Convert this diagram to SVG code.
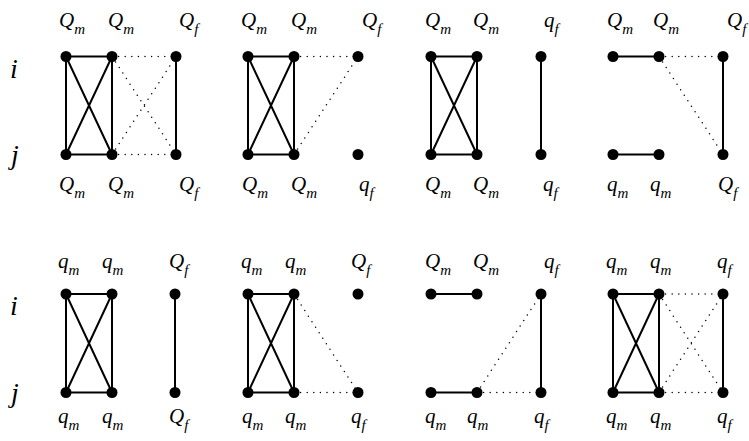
<svg xmlns="http://www.w3.org/2000/svg" width="749" height="441" viewBox="0 0 749 441">
<style>
.bg{fill:#fff}
.s{stroke:#000;stroke-width:2;fill:none}
.d{stroke:#000;stroke-width:1.5;stroke-linecap:round;stroke-dasharray:0 6.6;fill:none}
.n{fill:#000}
.l{font-family:"Liberation Serif","Times New Roman",serif;font-style:italic;font-size:21px;fill:#000}
.sb{font-size:15px}
.ij{font-family:"Liberation Serif","Times New Roman",serif;font-style:italic;font-size:28px;fill:#000}
</style>
<defs>
<circle id="dot" r="5.5" class="n"/>
</defs>
<rect class="bg" width="749" height="441"/>
<g id="connectors">
<path class="s" d="M66 56.5H112M66 154.5H112M66 56.5V154.5M112 56.5V154.5M66 56.5L112 154.5M112 56.5L66 154.5M176 56.5V154.5"/>
<path class="d" d="M112 56.5H176M112 154.5H176M112 56.5L176 154.5M112 154.5L176 56.5"/>
<path class="s" d="M248 56.5H294M248 154.5H294M248 56.5V154.5M294 56.5V154.5M248 56.5L294 154.5M294 56.5L248 154.5"/>
<path class="d" d="M294 56.5H358M294 154.5L358 56.5"/>
<path class="s" d="M431 56.5H477M431 154.5H477M431 56.5V154.5M477 56.5V154.5M431 56.5L477 154.5M477 56.5L431 154.5M541 56.5V154.5"/>
<path class="s" d="M613 56.5H659M613 154.5H659M723 56.5V154.5"/>
<path class="d" d="M659 56.5H723M659 56.5L723 154.5"/>
<path class="s" d="M66 294H112M66 392.5H112M66 294V392.5M112 294V392.5M66 294L112 392.5M112 294L66 392.5M175 294V392.5"/>
<path class="s" d="M248 294H294M248 392.5H294M248 294V392.5M294 294V392.5M248 294L294 392.5M294 294L248 392.5"/>
<path class="d" d="M294 294L358 392.5M294 392.5H358"/>
<path class="s" d="M431 294H477M431 392.5H477M541 294V392.5"/>
<path class="d" d="M477 392.5L541 294M477 392.5H541"/>
<path class="s" d="M613 294H659M613 392.5H659M613 294V392.5M659 294V392.5M613 294L659 392.5M659 294L613 392.5M723 294V392.5"/>
<path class="d" d="M659 294H723M659 392.5H723M659 294L723 392.5M659 392.5L723 294"/>
</g>
<g id="rowlabels">
<text class="ij" x="10" y="78">i</text>
<text class="ij" x="11" y="164">j</text>
<text class="ij" x="10" y="315">i</text>
<text class="ij" x="11" y="402">j</text>
</g>
<g id="p1-m1-top"><use href="#dot" x="66" y="56.5"/><text class="l" x="59" y="27">Q<tspan class="sb" dy="7">m</tspan></text></g>
<g id="p1-m2-top"><use href="#dot" x="112" y="56.5"/><text class="l" x="108" y="27">Q<tspan class="sb" dy="7">m</tspan></text></g>
<g id="p1-f-top"><use href="#dot" x="176" y="56.5"/><text class="l" x="179" y="27">Q<tspan class="sb" dy="7">f</tspan></text></g>
<g id="p1-m1-bot"><use href="#dot" x="66" y="154.5"/><text class="l" x="59" y="191">Q<tspan class="sb" dy="7">m</tspan></text></g>
<g id="p1-m2-bot"><use href="#dot" x="112" y="154.5"/><text class="l" x="108" y="191">Q<tspan class="sb" dy="7">m</tspan></text></g>
<g id="p1-f-bot"><use href="#dot" x="176" y="154.5"/><text class="l" x="179" y="191">Q<tspan class="sb" dy="7">f</tspan></text></g>
<g id="p2-m1-top"><use href="#dot" x="248" y="56.5"/><text class="l" x="241" y="27">Q<tspan class="sb" dy="7">m</tspan></text></g>
<g id="p2-m2-top"><use href="#dot" x="294" y="56.5"/><text class="l" x="291" y="27">Q<tspan class="sb" dy="7">m</tspan></text></g>
<g id="p2-f-top"><use href="#dot" x="358" y="56.5"/><text class="l" x="362" y="27">Q<tspan class="sb" dy="7">f</tspan></text></g>
<g id="p2-m1-bot"><use href="#dot" x="248" y="154.5"/><text class="l" x="242" y="191">Q<tspan class="sb" dy="7">m</tspan></text></g>
<g id="p2-m2-bot"><use href="#dot" x="294" y="154.5"/><text class="l" x="291" y="191">Q<tspan class="sb" dy="7">m</tspan></text></g>
<g id="p2-f-bot"><use href="#dot" x="358" y="154.5"/><text class="l" x="359" y="191">q<tspan class="sb" dy="7">f</tspan></text></g>
<g id="p3-m1-top"><use href="#dot" x="431" y="56.5"/><text class="l" x="425" y="27">Q<tspan class="sb" dy="7">m</tspan></text></g>
<g id="p3-m2-top"><use href="#dot" x="477" y="56.5"/><text class="l" x="473" y="27">Q<tspan class="sb" dy="7">m</tspan></text></g>
<g id="p3-f-top"><use href="#dot" x="541" y="56.5"/><text class="l" x="544" y="27">q<tspan class="sb" dy="7">f</tspan></text></g>
<g id="p3-m1-bot"><use href="#dot" x="431" y="154.5"/><text class="l" x="425" y="191">Q<tspan class="sb" dy="7">m</tspan></text></g>
<g id="p3-m2-bot"><use href="#dot" x="477" y="154.5"/><text class="l" x="473" y="191">Q<tspan class="sb" dy="7">m</tspan></text></g>
<g id="p3-f-bot"><use href="#dot" x="541" y="154.5"/><text class="l" x="543" y="191">q<tspan class="sb" dy="7">f</tspan></text></g>
<g id="p4-m1-top"><use href="#dot" x="613" y="56.5"/><text class="l" x="607" y="27">Q<tspan class="sb" dy="7">m</tspan></text></g>
<g id="p4-m2-top"><use href="#dot" x="659" y="56.5"/><text class="l" x="653" y="27">Q<tspan class="sb" dy="7">m</tspan></text></g>
<g id="p4-f-top"><use href="#dot" x="723" y="56.5"/><text class="l" x="727" y="27">Q<tspan class="sb" dy="7">f</tspan></text></g>
<g id="p4-m1-bot"><use href="#dot" x="613" y="154.5"/><text class="l" x="607" y="191">q<tspan class="sb" dy="7">m</tspan></text></g>
<g id="p4-m2-bot"><use href="#dot" x="659" y="154.5"/><text class="l" x="650" y="191">q<tspan class="sb" dy="7">m</tspan></text></g>
<g id="p4-f-bot"><use href="#dot" x="723" y="154.5"/><text class="l" x="718" y="191">Q<tspan class="sb" dy="7">f</tspan></text></g>
<g id="p5-m1-top"><use href="#dot" x="66" y="294"/><text class="l" x="58" y="268">q<tspan class="sb" dy="7">m</tspan></text></g>
<g id="p5-m2-top"><use href="#dot" x="112" y="294"/><text class="l" x="102" y="268">q<tspan class="sb" dy="7">m</tspan></text></g>
<g id="p5-f-top"><use href="#dot" x="175" y="294"/><text class="l" x="169" y="268">Q<tspan class="sb" dy="7">f</tspan></text></g>
<g id="p5-m1-bot"><use href="#dot" x="66" y="392.5"/><text class="l" x="58" y="423">q<tspan class="sb" dy="7">m</tspan></text></g>
<g id="p5-m2-bot"><use href="#dot" x="112" y="392.5"/><text class="l" x="102" y="423">q<tspan class="sb" dy="7">m</tspan></text></g>
<g id="p5-f-bot"><use href="#dot" x="175" y="392.5"/><text class="l" x="169" y="423">Q<tspan class="sb" dy="7">f</tspan></text></g>
<g id="p6-m1-top"><use href="#dot" x="248" y="294"/><text class="l" x="241" y="268">q<tspan class="sb" dy="7">m</tspan></text></g>
<g id="p6-m2-top"><use href="#dot" x="294" y="294"/><text class="l" x="285" y="268">q<tspan class="sb" dy="7">m</tspan></text></g>
<g id="p6-f-top"><use href="#dot" x="358" y="294"/><text class="l" x="351" y="268">Q<tspan class="sb" dy="7">f</tspan></text></g>
<g id="p6-m1-bot"><use href="#dot" x="248" y="392.5"/><text class="l" x="242" y="423">q<tspan class="sb" dy="7">m</tspan></text></g>
<g id="p6-m2-bot"><use href="#dot" x="294" y="392.5"/><text class="l" x="285" y="423">q<tspan class="sb" dy="7">m</tspan></text></g>
<g id="p6-f-bot"><use href="#dot" x="358" y="392.5"/><text class="l" x="351" y="423">q<tspan class="sb" dy="7">f</tspan></text></g>
<g id="p7-m1-top"><use href="#dot" x="431" y="294"/><text class="l" x="425" y="268">Q<tspan class="sb" dy="7">m</tspan></text></g>
<g id="p7-m2-top"><use href="#dot" x="477" y="294"/><text class="l" x="473" y="268">Q<tspan class="sb" dy="7">m</tspan></text></g>
<g id="p7-f-top"><use href="#dot" x="541" y="294"/><text class="l" x="544" y="268">q<tspan class="sb" dy="7">f</tspan></text></g>
<g id="p7-m1-bot"><use href="#dot" x="431" y="392.5"/><text class="l" x="425" y="423">q<tspan class="sb" dy="7">m</tspan></text></g>
<g id="p7-m2-bot"><use href="#dot" x="477" y="392.5"/><text class="l" x="467" y="423">q<tspan class="sb" dy="7">m</tspan></text></g>
<g id="p7-f-bot"><use href="#dot" x="541" y="392.5"/><text class="l" x="534" y="423">q<tspan class="sb" dy="7">f</tspan></text></g>
<g id="p8-m1-top"><use href="#dot" x="613" y="294"/><text class="l" x="606" y="268">q<tspan class="sb" dy="7">m</tspan></text></g>
<g id="p8-m2-top"><use href="#dot" x="659" y="294"/><text class="l" x="650" y="268">q<tspan class="sb" dy="7">m</tspan></text></g>
<g id="p8-f-top"><use href="#dot" x="723" y="294"/><text class="l" x="717" y="268">q<tspan class="sb" dy="7">f</tspan></text></g>
<g id="p8-m1-bot"><use href="#dot" x="613" y="392.5"/><text class="l" x="606" y="423">q<tspan class="sb" dy="7">m</tspan></text></g>
<g id="p8-m2-bot"><use href="#dot" x="659" y="392.5"/><text class="l" x="650" y="423">q<tspan class="sb" dy="7">m</tspan></text></g>
<g id="p8-f-bot"><use href="#dot" x="723" y="392.5"/><text class="l" x="717" y="423">q<tspan class="sb" dy="7">f</tspan></text></g>
</svg>
